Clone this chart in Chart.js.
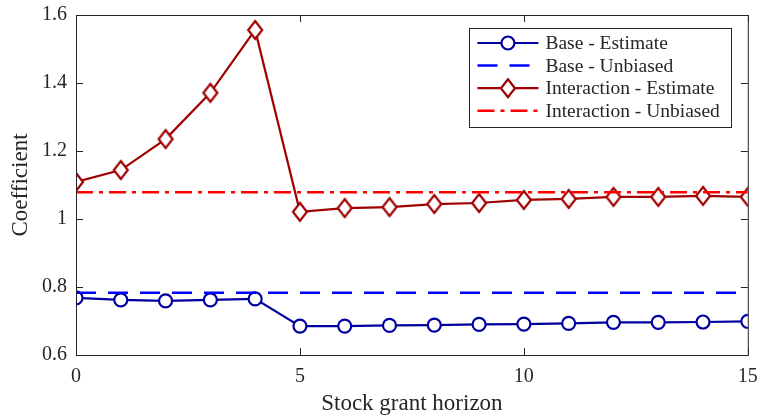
<!DOCTYPE html>
<html>
<head>
<meta charset="utf-8">
<script src="https://cdn.jsdelivr.net/npm/chart.js@4"></script>
<style>
  body { margin: 0; background: #fff; }
  #wrap { width: 759px; height: 418px; }
</style>
</head>
<body>
<div id="wrap"><canvas id="coefChart"></canvas></div>
<script>
const horizons = [0, 1, 2, 3, 4, 5, 6, 7, 8, 9, 10, 11, 12, 13, 14, 15];
const baseEstimate = [0.768, 0.762, 0.759, 0.762, 0.765, 0.685, 0.685, 0.687, 0.688, 0.690, 0.691, 0.693, 0.696, 0.696, 0.697, 0.699];
const baseUnbiased = 0.783;
const interEstimate = [1.109, 1.144, 1.235, 1.371, 1.556, 1.021, 1.032, 1.035, 1.044, 1.047, 1.056, 1.059, 1.065, 1.065, 1.068, 1.065];
const interUnbiased = 1.079;
const xTicks = [0, 5, 10, 15];
const yTicks = [0.6, 0.8, 1.0, 1.2, 1.4, 1.6];

const axisColor = '#262626';
const fontFamily = '"Liberation Serif", "DejaVu Serif", serif';

function toPoints(values) {
  return horizons.map((h, i) => ({ x: h, y: values[i] }));
}

function flatLine(value) {
  return [{ x: horizons[0], y: value }, { x: horizons[horizons.length - 1], y: value }];
}

// box around the plot with inward ticks on all four sides
const boxPlugin = {
  id: 'boxTicks',
  afterDatasetsDraw(chart) {
    const { ctx, chartArea: a, scales } = chart;
    ctx.save();
    ctx.strokeStyle = axisColor;
    ctx.lineWidth = 1;
    ctx.strokeRect(a.left + 0.5, a.top + 0.5, a.right - a.left, a.bottom - a.top);
    const len = 7;
    ctx.beginPath();
    xTicks.forEach(t => {
      const x = Math.round(scales.x.getPixelForValue(t)) + 0.5;
      ctx.moveTo(x, a.bottom); ctx.lineTo(x, a.bottom - len);
      ctx.moveTo(x, a.top); ctx.lineTo(x, a.top + len);
    });
    yTicks.forEach(t => {
      const y = Math.round(scales.y.getPixelForValue(t)) + 0.5;
      ctx.moveTo(a.left, y); ctx.lineTo(a.left + len, y);
      ctx.moveTo(a.right, y); ctx.lineTo(a.right - len, y);
    });
    ctx.stroke();
    ctx.restore();
  }
};

// matlab style legend: line with the marker in the middle
const legendPlugin = {
  id: 'lineLegend',
  afterDraw(chart) {
    const { ctx, chartArea: a } = chart;
    const sets = chart.data.datasets;
    ctx.save();
    ctx.font = '19.5px ' + fontFamily;
    const textW = Math.max(...sets.map(d => ctx.measureText(d.label).width));
    const lineW = 61, rowH = 22.6;
    const w = 8 + lineW + 7 + textW + 12;
    const h = 99;
    const right = a.right - 16, top = a.top + 13;
    const left = right - w;
    ctx.fillStyle = '#fff';
    ctx.fillRect(left, top, w, h);
    ctx.strokeStyle = axisColor;
    ctx.lineWidth = 1;
    ctx.strokeRect(Math.round(left) + 0.5, Math.round(top) + 0.5, Math.round(w), h);
    sets.forEach((d, i) => {
      const y = top + 15 + i * rowH;
      const x0 = left + 8;
      ctx.strokeStyle = d.borderColor;
      ctx.lineWidth = d.borderWidth;
      ctx.setLineDash(d.borderDash || []);
      ctx.beginPath();
      ctx.moveTo(x0, y); ctx.lineTo(x0 + lineW, y);
      ctx.stroke();
      ctx.setLineDash([]);
      if (d.pointRadius > 0) {
        const cx = x0 + lineW / 2;
        ctx.fillStyle = '#fff';
        ctx.beginPath();
        if (d.pointStyle === 'circle') {
          ctx.arc(cx, y, d.pointRadius, 0, Math.PI * 2);
        } else {
          ctx.moveTo(cx, y - 9); ctx.lineTo(cx + 7, y); ctx.lineTo(cx, y + 9); ctx.lineTo(cx - 7, y);
          ctx.closePath();
        }
        ctx.fill();
        ctx.stroke();
      }
      ctx.fillStyle = axisColor;
      ctx.textBaseline = 'middle';
      ctx.fillText(d.label, x0 + lineW + 7, y + 1);
    });
    ctx.restore();
  }
};

// squashed diamond marker like matlab's 'd'
const diamond = document.createElement('canvas');
diamond.width = 20; diamond.height = 22;
(function () {
  const c = diamond.getContext('2d');
  c.strokeStyle = '#a00000';
  c.fillStyle = '#fff';
  c.lineWidth = 2.2;
  c.beginPath();
  c.moveTo(10, 2); c.lineTo(17, 11); c.lineTo(10, 20); c.lineTo(3, 11);
  c.closePath();
  c.fill();
  c.stroke();
})();

const ctx = document.getElementById('coefChart').getContext('2d');
const coefChart = new Chart(ctx, {
  type: 'line',
  data: {
    datasets: [
      {
        label: 'Base - Estimate',
        data: toPoints(baseEstimate),
        borderColor: '#0000a0',
        backgroundColor: '#fff',
        borderWidth: 2.2,
        pointStyle: 'circle',
        pointRadius: 6.5,
        pointBorderWidth: 2.2,
        order: 4
      },
      {
        label: 'Base - Unbiased',
        data: flatLine(baseUnbiased),
        borderColor: '#0000ff',
        borderWidth: 2.5,
        borderDash: [20, 12],
        pointRadius: 0,
        order: 3
      },
      {
        label: 'Interaction - Estimate',
        data: toPoints(interEstimate),
        borderColor: '#a00000',
        backgroundColor: '#fff',
        borderWidth: 2.2,
        pointStyle: diamond,
        pointRadius: 9,
        pointBorderWidth: 2.2,
        order: 2
      },
      {
        label: 'Interaction - Unbiased',
        data: flatLine(interUnbiased),
        borderColor: '#ff0000',
        borderWidth: 2.5,
        borderDash: [17, 6, 4, 6],
        pointRadius: 0,
        order: 1
      }
    ]
  },
  options: {
    responsive: true,
    maintainAspectRatio: false,
    animation: false,
    layout: { padding: { top: 15, right: 10, left: 0, bottom: 0 } },
    plugins: {
      legend: { display: false },
      tooltip: { enabled: false }
    },
    scales: {
      x: {
        type: 'linear',
        min: 0,
        max: 15,
        afterBuildTicks: scale => { scale.ticks = xTicks.map(v => ({ value: v })); },
        afterFit: scale => {
          scale.height = 63;
          scale.paddingLeft = 0;
          scale.paddingRight = 0;
        },
        grid: { display: false, drawTicks: false },
        border: { display: false },
        ticks: { color: axisColor, padding: 10, font: { family: fontFamily, size: 20 } },
        title: {
          display: true,
          text: 'Stock grant horizon',
          color: axisColor,
          padding: { top: 2, bottom: 0 },
          font: { family: fontFamily, size: 23 }
        }
      },
      y: {
        min: 0.6,
        max: 1.6,
        afterBuildTicks: scale => { scale.ticks = yTicks.map(v => ({ value: v })); },
        afterFit: scale => {
          scale.width = 76;
          scale.paddingTop = 0;
          scale.paddingBottom = 0;
        },
        grid: { display: false, drawTicks: false },
        border: { display: false },
        ticks: {
          color: axisColor,
          padding: 9,
          font: { family: fontFamily, size: 20 },
          callback: v => String(Math.round(v * 10) / 10)
        },
        title: {
          display: true,
          text: 'Coefficient',
          color: axisColor,
          padding: { top: 7, bottom: 0 },
          font: { family: fontFamily, size: 23 }
        }
      }
    }
  },
  plugins: [boxPlugin, legendPlugin]
});
</script>
</body>
</html>
